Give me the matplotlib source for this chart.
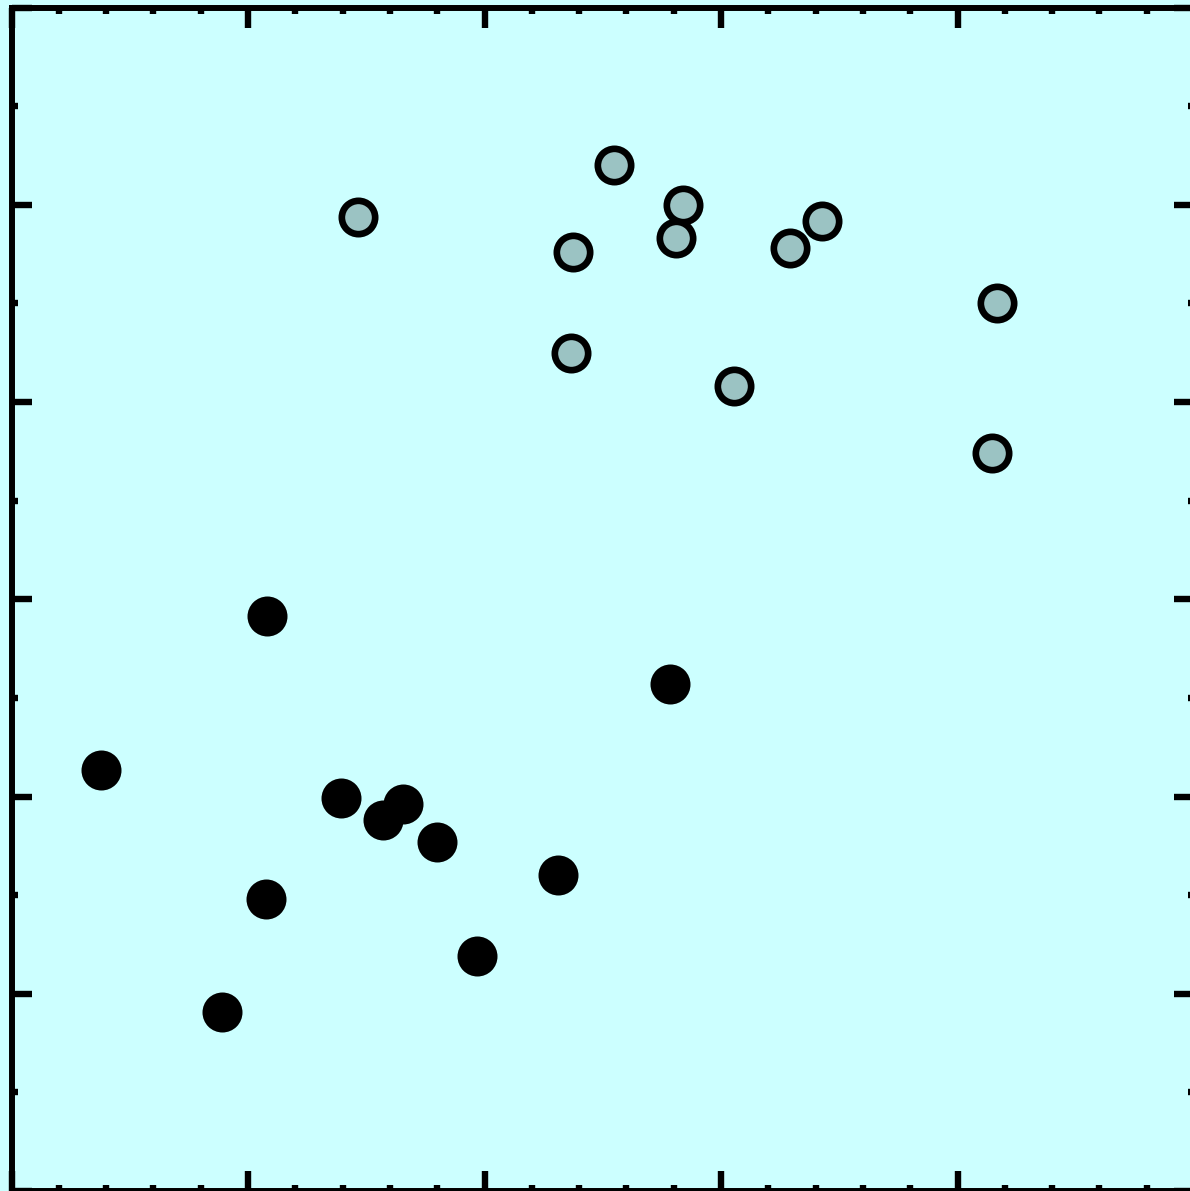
import matplotlib

matplotlib.use("Agg")
import matplotlib.pyplot as plt
from matplotlib.ticker import MultipleLocator

# upper group (grey fill, black rim)
grey_x = [1.465, 2.548, 2.839, 2.374, 2.810, 3.292, 3.427, 4.167, 2.366, 3.055, 4.146]
grey_y = [4.94, 5.20, 5.00, 4.76, 4.83, 4.78, 4.92, 4.50, 4.25, 4.08, 3.74]

# lower group (solid black)
black_x = [1.080, 2.784, 0.378, 1.393, 1.571, 1.655, 1.799, 2.311, 1.076, 1.968, 0.890]
black_y = [2.915, 2.57, 2.135, 1.99, 1.88, 1.96, 1.77, 1.60, 1.48, 1.19, 0.91]

BG = "#ccffff"

fig = plt.figure(figsize=(11.9, 11.91), dpi=100, facecolor=BG)
ax = fig.add_axes([11.5 / 1190, 0.0, 1182.5 / 1190, 1183.5 / 1191], facecolor=BG)

ax.plot(black_x, black_y, "o", ms=28.8, mfc="black", mec="black", mew=0,
        clip_on=False)
ax.plot(grey_x, grey_y, "o", ms=24, mfc="#9bc3c3", mec="black", mew=4.8,
        clip_on=False)

ax.set_xlim(0, 5)
ax.set_ylim(0, 6)
ax.xaxis.set_major_locator(MultipleLocator(1))
ax.xaxis.set_minor_locator(MultipleLocator(0.2))
ax.yaxis.set_major_locator(MultipleLocator(1))
ax.yaxis.set_minor_locator(MultipleLocator(0.5))
ax.tick_params(which="both", direction="in", top=True, right=True,
               labelbottom=False, labelleft=False, color="black")
ax.tick_params(which="major", length=14.4, width=4.6)
ax.tick_params(which="minor", length=4.3, width=4.6)
for sp in ax.spines.values():
    sp.set_linewidth(4.3)
    sp.set_color("black")

fig.savefig("out.png", dpi=100, facecolor=BG)
